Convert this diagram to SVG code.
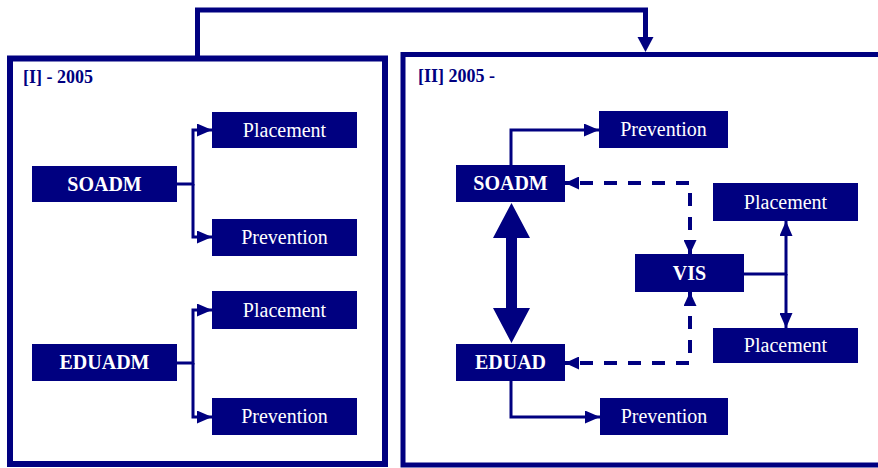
<svg xmlns="http://www.w3.org/2000/svg" width="878" height="468" viewBox="0 0 878 468">
<style>
.frame{fill:none;stroke:#000080}
.box{fill:#000080}
.lbl{fill:#ffffff;font-family:"Liberation Serif","Times New Roman",serif;font-size:20px;text-anchor:middle}
.b{font-weight:bold}
.ttl{fill:#000080;font-family:"Liberation Serif","Times New Roman",serif;font-size:18px;font-weight:bold}
.ln{fill:none;stroke:#000080;stroke-width:3}
.dash{fill:none;stroke:#000080;stroke-width:4;stroke-dasharray:13 11}
</style>
<defs>
<marker id="ah" viewBox="0 0 15 13" refX="15" refY="6.5" markerWidth="15" markerHeight="13" markerUnits="userSpaceOnUse" orient="auto-start-reverse">
<path d="M0,0 L15,6.5 L0,13 z" fill="#000080"/>
</marker>
<marker id="dh" viewBox="0 0 14 13" refX="14" refY="6.5" markerWidth="14" markerHeight="13" markerUnits="userSpaceOnUse" orient="auto-start-reverse">
<path d="M0,0 L14,6.5 L0,13 z" fill="#000080"/>
</marker>
</defs>

<g id="frame-left">
<rect class="frame" x="10" y="58.5" width="375" height="405.5" stroke-width="6"/>
<text class="ttl" x="23" y="83">[I] - 2005</text>
</g>
<g id="frame-right">
<rect class="frame" x="403" y="54.5" width="480" height="410.5" stroke-width="5"/>
<text class="ttl" x="418" y="82">[II] 2005 -</text>
</g>

<g id="connectors">
<path d="M197.5,58 V10 H645.5 V38" fill="none" stroke="#000080" stroke-width="5"/>
<polygon points="637.5,37 653.5,37 645.5,52" fill="#000080"/>
<path class="ln" d="M177,184 H193 V130 H212" marker-end="url(#ah)"/>
<path class="ln" d="M193,184 V237 H212" marker-end="url(#ah)"/>
<path class="ln" d="M177,363 H193 V310 H212" marker-end="url(#ah)"/>
<path class="ln" d="M193,363 V417 H212" marker-end="url(#ah)"/>
<path class="ln" d="M511,165 V130 H599" marker-end="url(#ah)"/>
<path class="ln" d="M511,381 V417 H600" marker-end="url(#ah)"/>
<path class="ln" d="M744,274 H786 V221" marker-end="url(#ah)"/>
<path class="ln" d="M786,274 V328" marker-end="url(#ah)"/>
<path class="dash" d="M690,254 V183 H565" marker-start="url(#dh)" marker-end="url(#dh)"/>
<path class="dash" d="M690,292 V363 H565" marker-start="url(#dh)" marker-end="url(#dh)"/>
<polygon points="511.5,203 530,238 517,238 517,308 530,308 511.5,343 493,308 506,308 506,238 493,238" fill="#000080"/>
</g>

<g id="l-soadm"><rect class="box" x="32" y="166" width="145" height="36"/><text class="lbl b" x="104.5" y="191">SOADM</text></g>
<g id="l-placement-1"><rect class="box" x="212" y="112" width="145" height="36"/><text class="lbl" x="284.5" y="137">Placement</text></g>
<g id="l-prevention-1"><rect class="box" x="212" y="219" width="145" height="37"/><text class="lbl" x="284.5" y="244">Prevention</text></g>
<g id="l-eduadm"><rect class="box" x="32" y="344" width="145" height="37"/><text class="lbl b" x="104.5" y="369">EDUADM</text></g>
<g id="l-placement-2"><rect class="box" x="212" y="291" width="145" height="38"/><text class="lbl" x="284.5" y="317">Placement</text></g>
<g id="l-prevention-2"><rect class="box" x="212" y="398" width="145" height="37"/><text class="lbl" x="284.5" y="423">Prevention</text></g>

<g id="r-prevention-1"><rect class="box" x="599" y="111" width="129" height="37"/><text class="lbl" x="663.5" y="136">Prevention</text></g>
<g id="r-soadm"><rect class="box" x="456" y="165" width="109" height="37"/><text class="lbl b" x="510.5" y="190">SOADM</text></g>
<g id="r-placement-1"><rect class="box" x="713" y="183" width="145" height="38"/><text class="lbl" x="785.5" y="209">Placement</text></g>
<g id="r-vis"><rect class="box" x="635" y="254" width="109" height="38"/><text class="lbl b" x="689.5" y="280">VIS</text></g>
<g id="r-placement-2"><rect class="box" x="713" y="328" width="145" height="35"/><text class="lbl" x="785.5" y="352">Placement</text></g>
<g id="r-eduad"><rect class="box" x="456" y="344" width="109" height="37"/><text class="lbl b" x="510.5" y="369">EDUAD</text></g>
<g id="r-prevention-2"><rect class="box" x="600" y="398" width="128" height="37"/><text class="lbl" x="664" y="423">Prevention</text></g>
</svg>
